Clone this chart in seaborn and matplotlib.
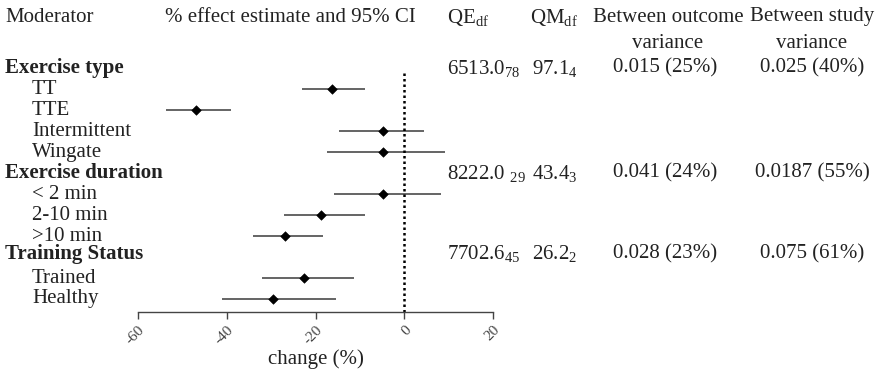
import numpy as np
import pandas as pd
import seaborn as sns
import matplotlib.pyplot as plt
from matplotlib.transforms import blended_transform_factory

# --- data ---
labels = ["Exercise type", "TT", "TTE", "Intermittent", "Wingate",
          "Exercise duration", "< 2 min", "2-10 min", ">10 min",
          "Training Status", "Trained", "Healthy"]
is_header = [True, False, False, False, False,
             True, False, False, False,
             True, False, False]
estimate = [np.nan, -16.3, -46.9, -4.9, -4.9,
            np.nan, -4.7, -18.7, -26.8,
            np.nan, -22.5, -29.5]
ci_low = [np.nan, -23.1, -53.7, -14.8, -17.4,
          np.nan, -15.9, -27.1, -34.0,
          np.nan, -32.1, -41.1]
ci_high = [np.nan, -8.9, -39.1, 4.4, 9.2,
           np.nan, 8.3, -8.8, -18.4,
           np.nan, -11.4, -15.3]

# statistics per moderator block (header rows)
qe = [r"6513.0$_{78}$", r"8222.0 $_{29}$", r"7702.6$_{45}$"]
qm = [r"97.1$_{4}$", r"43.4$_{3}$", r"26.2$_{2}$"]
outcome_var = ["0.015 (25%)", "0.041 (24%)", "0.028 (23%)"]
study_var = ["0.025 (40%)", "0.0187 (55%)", "0.075 (61%)"]

x_ticks = [-60, -40, -20, 0, 20]

df = pd.DataFrame({"row": np.arange(len(labels)), "label": labels,
                   "est": estimate, "lo": ci_low, "hi": ci_high})
pts = df.dropna()

sns.set_style("white")
plt.rcParams["font.family"] = ["Liberation Serif", "DejaVu Serif"]
plt.rcParams["mathtext.fontset"] = "custom"
plt.rcParams["mathtext.rm"] = "Liberation Serif"
plt.rcParams["mathtext.it"] = "Liberation Serif:italic"
plt.rcParams["mathtext.bf"] = "Liberation Serif:bold"

W, H = 880, 372
FS = 15
fig = plt.figure(figsize=(W / 100, H / 100), dpi=100)
# axes: x=-60 at px 138, x=20 at px 493; bottom spine at px 312, top at px 60
ax = fig.add_axes([138 / W, 1 - 312 / H, (493 - 138) / W, (312 - 60) / H])

row0, step = 68, 21
ax.set_ylim((312 - row0) / step, (60 - row0) / step)
ax.set_xlim(-60, 20)

# CI lines and point estimates
ax.hlines(pts["row"], pts["lo"], pts["hi"], color="#3a3a3a", linewidth=1.1)
sns.scatterplot(data=pts, x="est", y="row", marker="D", s=24,
                color="black", edgecolor="black", ax=ax, zorder=3)

# reference line at 0
ax.plot([0, 0], [0.25, ax.get_ylim()[0]], color="black",
        linestyle=(0, (1, 1.2)), linewidth=1.8, zorder=2)

for s in ["top", "right", "left"]:
    ax.spines[s].set_visible(False)
ax.spines["bottom"].set_color("#444444")
ax.spines["bottom"].set_linewidth(1.0)
ax.set_xticks(x_ticks)
ax.set_xticklabels([str(t) for t in x_ticks], rotation=45, ha="right",
                   va="top", rotation_mode="anchor", fontsize=11)
ax.tick_params(axis="x", bottom=True, direction="out", length=5, width=1,
               color="#444444", pad=3, labelcolor="#444444")
ax.set_yticks([])
ax.set_ylabel("")
ax.set_xlabel("change (%)", fontsize=FS, labelpad=2, color="#222222")

# row labels and statistics columns
tr = blended_transform_factory(fig.transFigure, ax.transData)
txt = dict(fontsize=FS, color="#222222", va="center", transform=tr,
           clip_on=False)
k = 0
for i, (lab, hdr) in enumerate(zip(labels, is_header)):
    if hdr:
        y = i - 0.15 if k == 2 else i
        ax.text(5 / W, y, lab, fontweight="bold", ha="left", **txt)
        ax.text(447 / W, y, qe[k], ha="left", **txt)
        ax.text(532 / W, y, qm[k], ha="left", **txt)
        ax.text(665 / W, y, outcome_var[k], ha="center", **txt)
        ax.text(812 / W, y, study_var[k], ha="center", **txt)
        k += 1
    else:
        ax.text(32 / W, i, lab, ha="left", **txt)

# column headers
head = dict(fontsize=FS, color="#222222", va="center", clip_on=False)
fig.text(5 / W, 1 - 17 / H, "Moderator", ha="left", **head)
fig.text(290 / W, 1 - 17 / H, "% effect estimate and 95% CI", ha="center", **head)
fig.text(447 / W, 1 - 17 / H, r"QE$_{\mathrm{df}}$", ha="left", **head)
fig.text(530 / W, 1 - 17 / H, r"QM$_{\mathrm{df}}$", ha="left", **head)
fig.text(668 / W, 1 - 17 / H, "Between outcome", ha="center", **head)
fig.text(668 / W, 1 - 43 / H, "variance", ha="center", **head)
fig.text(812 / W, 1 - 17 / H, "Between study", ha="center", **head)
fig.text(812 / W, 1 - 43 / H, "variance", ha="center", **head)

fig.savefig("out.png", dpi=100, facecolor="white")
